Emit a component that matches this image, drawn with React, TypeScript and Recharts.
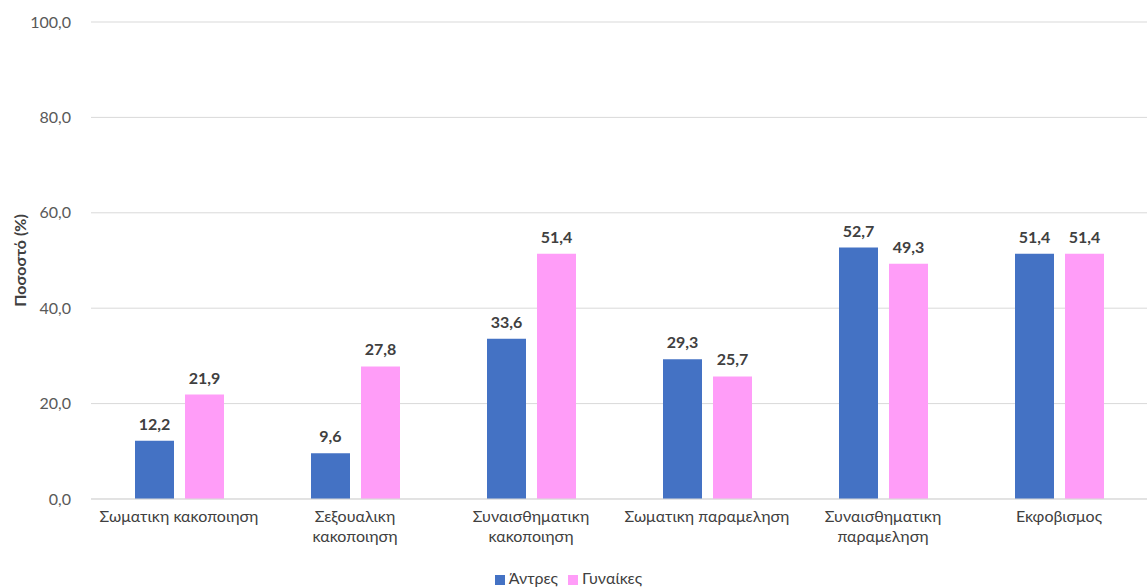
import { Bar, BarChart, CartesianGrid, LabelList, Legend, XAxis, YAxis } from "recharts";

const categories = [
  "Σωματικη κακοποιηση",
  "Σεξουαλικη\nκακοποιηση",
  "Συναισθηματικη\nκακοποιηση",
  "Σωματικη παραμεληση",
  "Συναισθηματικη\nπαραμεληση",
  "Εκφοβισμος",
];
const men = [12.2, 9.6, 33.6, 29.3, 52.7, 51.4];
const women = [21.9, 27.8, 51.4, 25.7, 49.3, 51.4];
const yTicks = [0, 20, 40, 60, 80, 100];

const data = categories.map((name, i) => ({ name, men: men[i], women: women[i] }));

const FONT = "Lato, 'Open Sans', 'Liberation Sans', sans-serif";
const fmt = (v: number) => v.toFixed(1).replace(".", ",");

function CategoryTick({ x, y, payload }: any) {
  const lines = String(payload.value).split("\n");
  return (
    <text x={x} y={y} textAnchor="middle" fill="#404040" fontSize={16} fontFamily={FONT}>
      {lines.map((line, i) => (
        <tspan key={i} x={x} dy={i === 0 ? 15 : 20}>
          {line}
        </tspan>
      ))}
    </text>
  );
}

export default function App() {
  return (
    <div style={{ position: "absolute", left: 0, top: 0, background: "#fff" }}>
      <BarChart
        width={1147}
        height={587}
        data={data}
        margin={{ top: 22, right: 0, bottom: 0, left: 0 }}
        barGap={11}
        barSize={39}
      >
        <CartesianGrid vertical={false} stroke="#d9d9d9" />
        <XAxis
          dataKey="name"
          tick={<CategoryTick />}
          tickLine={false}
          axisLine={{ stroke: "#d9d9d9" }}
          interval={0}
          height={69}
        />
        <YAxis
          domain={[0, 100]}
          ticks={yTicks}
          tickFormatter={fmt}
          tick={{ fill: "#595959", fontSize: 16, fontFamily: FONT }}
          tickLine={false}
          axisLine={false}
          width={91}
          tickMargin={14}
          label={{
            value: "Ποσοστό (%)",
            angle: -90,
            position: "insideLeft",
            offset: 20,
            style: { textAnchor: "middle", fill: "#404040", fontWeight: 700, fontSize: 16, fontFamily: FONT },
          }}
        />
        <Legend
          verticalAlign="bottom"
          align="center"
          iconType="square"
          iconSize={10}
          wrapperStyle={{ fontFamily: FONT, fontSize: 16, bottom: 0 }}
          formatter={(value) => <span style={{ color: "#404040" }}>{value}</span>}
        />
        <Bar dataKey="men" name="Άντρες" fill="#4472C4" isAnimationActive={false}>
          <LabelList
            dataKey="men"
            position="top"
            offset={11}
            formatter={(v: any) => fmt(Number(v))}
            style={{ fill: "#404040", fontWeight: 700, fontSize: 16, fontFamily: FONT }}
          />
        </Bar>
        <Bar dataKey="women" name="Γυναίκες" fill="#FF9DF8" isAnimationActive={false}>
          <LabelList
            dataKey="women"
            position="top"
            offset={11}
            formatter={(v: any) => fmt(Number(v))}
            style={{ fill: "#404040", fontWeight: 700, fontSize: 16, fontFamily: FONT }}
          />
        </Bar>
      </BarChart>
    </div>
  );
}
